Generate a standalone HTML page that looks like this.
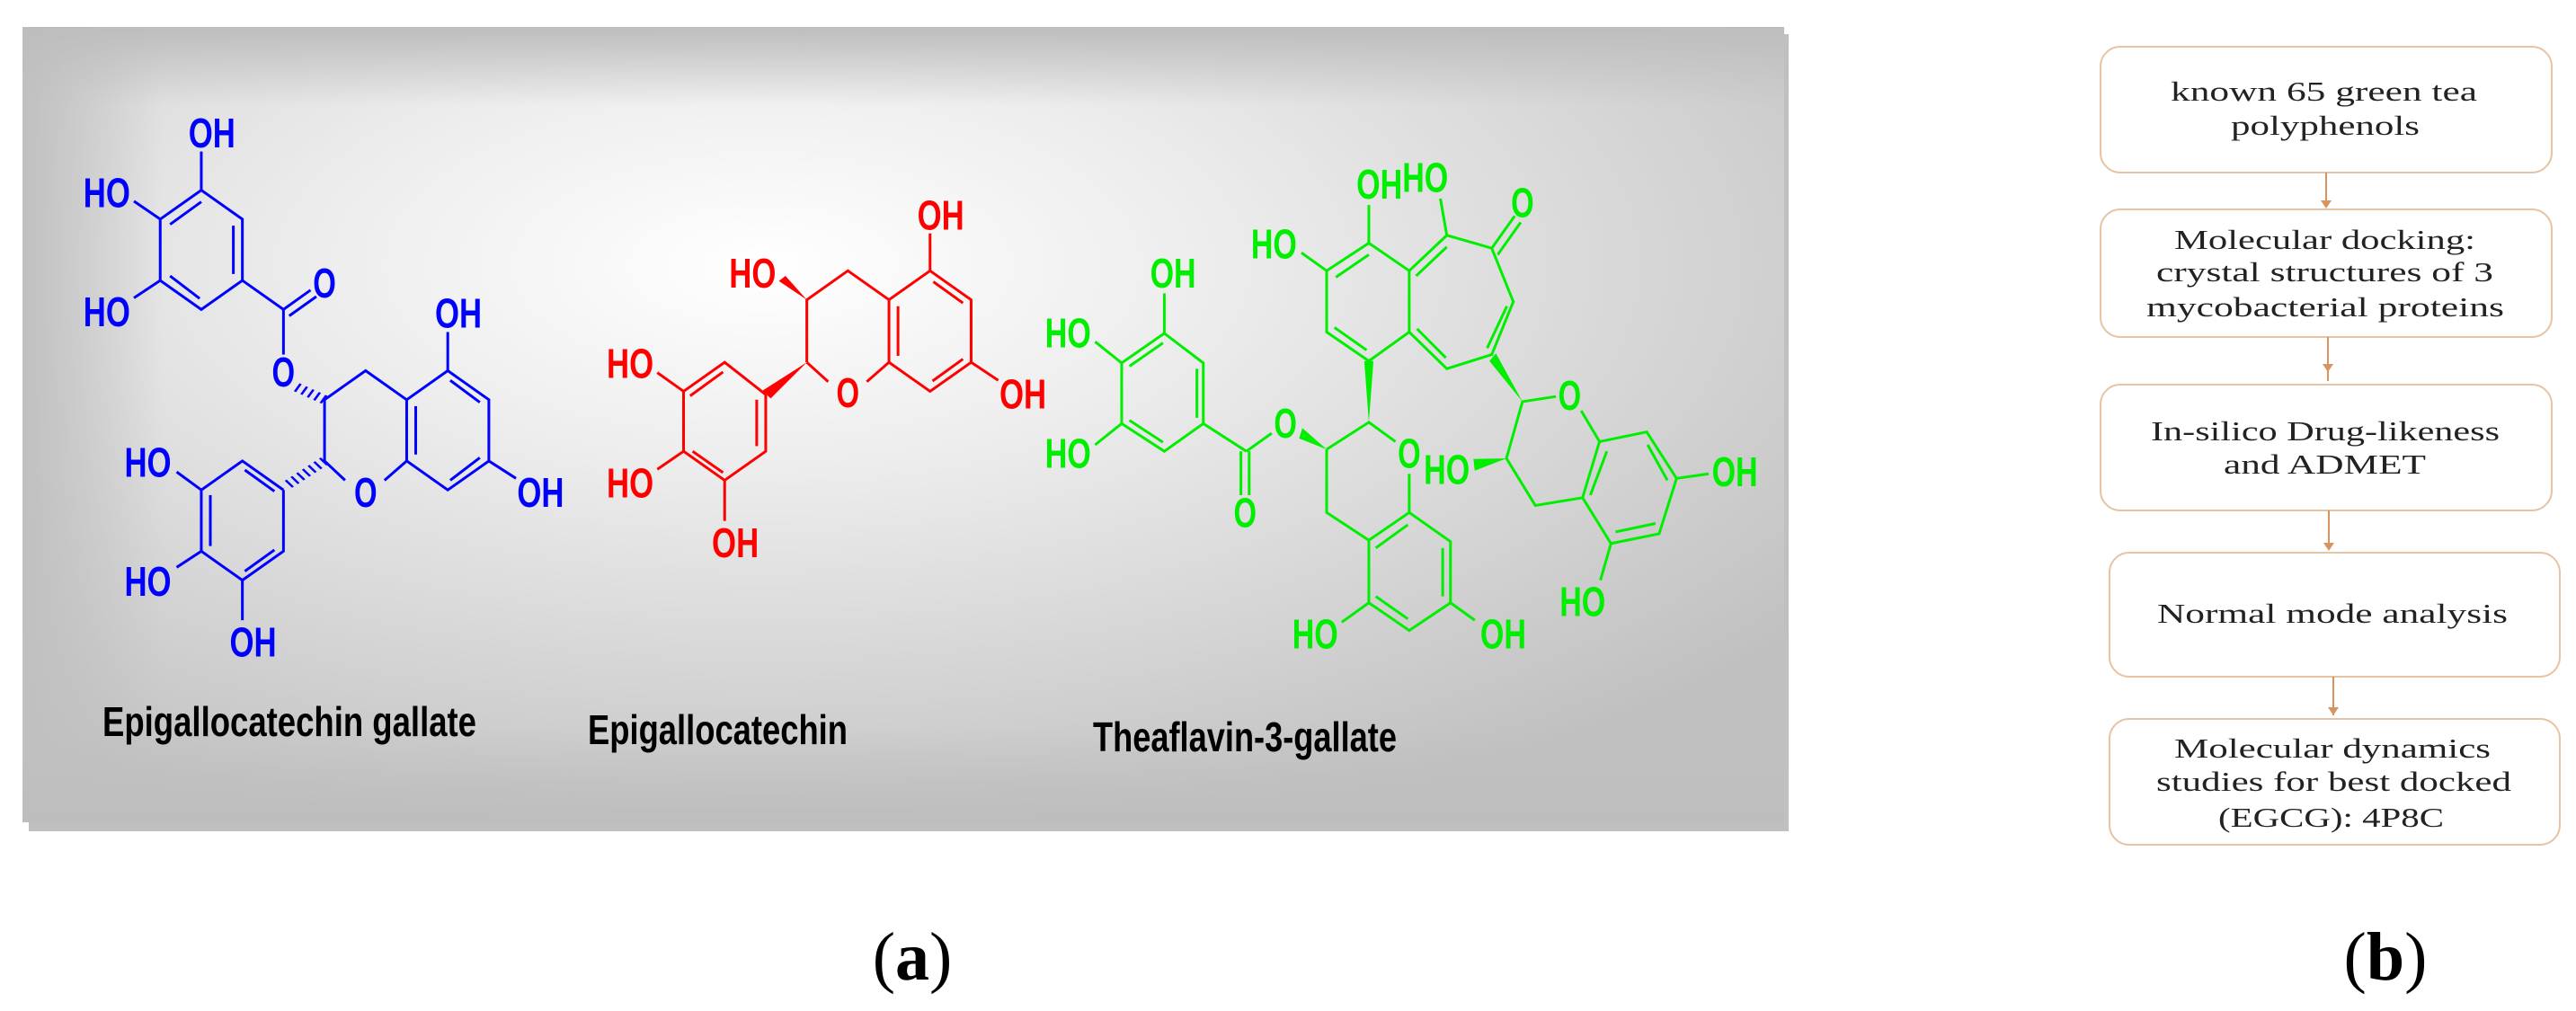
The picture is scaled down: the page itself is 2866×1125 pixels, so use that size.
<!DOCTYPE html>
<html><head><meta charset="utf-8"><style>
html,body{margin:0;padding:0;background:#fff;}
svg{display:block;}
.at{font-family:"Liberation Sans",Arial,sans-serif;font-weight:bold;font-size:64px;}
.lb{font-family:"Liberation Sans",Arial,sans-serif;font-weight:bold;font-size:46px;fill:#000;}
.fc{font-family:"Liberation Serif",serif;font-size:31px;fill:#222;}
</style></head><body>
<svg width="2866" height="1125" viewBox="0 0 2866 1125" xmlns="http://www.w3.org/2000/svg">
<defs>
<radialGradient id="bg" cx="0.42" cy="0.3" r="0.75">
<stop offset="0" stop-color="#ffffff"/>
<stop offset="0.35" stop-color="#ececec"/>
<stop offset="1" stop-color="#c0c0c0"/>
</radialGradient>
<linearGradient id="lg" x1="0" y1="0" x2="1" y2="0">
<stop offset="0" stop-color="#c0c0c0" stop-opacity="1"/>
<stop offset="0.08" stop-color="#c0c0c0" stop-opacity="0"/>
<stop offset="1" stop-color="#c0c0c0" stop-opacity="0"/>
</linearGradient>
<linearGradient id="tg" x1="0" y1="0" x2="0" y2="1">
<stop offset="0" stop-color="#bdbdbd" stop-opacity="1"/>
<stop offset="0.1" stop-color="#c0c0c0" stop-opacity="0"/>
<stop offset="0.88" stop-color="#c0c0c0" stop-opacity="0"/>
<stop offset="1" stop-color="#bdbdbd" stop-opacity="1"/>
</linearGradient>
</defs>
<rect x="32" y="38" width="1958" height="887" fill="#c0c0c0"/>
<rect x="25" y="30" width="1960" height="885" fill="url(#bg)"/>
<rect x="25" y="30" width="1960" height="885" fill="url(#lg)"/>
<rect x="25" y="30" width="1960" height="885" fill="url(#tg)"/>

<!-- BLUE EGCG -->
<g transform="scale(0.9141,0.7174)" fill="none" stroke="#0000ff" stroke-width="3">
<g>
<polyline vector-effect="non-scaling-stroke" points="245,295 295,340 295,435 245,480 195,435 195,340 245,295"/>
<line vector-effect="non-scaling-stroke" x1="207" y1="348" x2="245" y2="313"/>
<line vector-effect="non-scaling-stroke" x1="284" y1="350" x2="284" y2="425"/>
<line vector-effect="non-scaling-stroke" x1="207" y1="428" x2="243" y2="463"/>
<line vector-effect="non-scaling-stroke" x1="245" y1="295" x2="245" y2="235"/>
<line vector-effect="non-scaling-stroke" x1="195" y1="340" x2="163" y2="312"/>
<line vector-effect="non-scaling-stroke" x1="195" y1="435" x2="163" y2="462"/>
<line vector-effect="non-scaling-stroke" x1="295" y1="435" x2="345" y2="480"/>
<line vector-effect="non-scaling-stroke" x1="345" y1="480" x2="378" y2="450"/>
<line vector-effect="non-scaling-stroke" x1="352" y1="490" x2="385" y2="460"/>
<line vector-effect="non-scaling-stroke" x1="345" y1="480" x2="345" y2="550"/>
<polyline vector-effect="non-scaling-stroke" points="395,620 445,575 495,620 545,575 595,620 595,715 545,760 495,715 468,745"/>
<line vector-effect="non-scaling-stroke" x1="420" y1="745" x2="395" y2="715"/>
<line vector-effect="non-scaling-stroke" x1="395" y1="715" x2="395" y2="620"/>
<line vector-effect="non-scaling-stroke" x1="495" y1="620" x2="495" y2="715"/>
<line vector-effect="non-scaling-stroke" x1="506" y1="630" x2="506" y2="705"/>
<line vector-effect="non-scaling-stroke" x1="548" y1="590" x2="584" y2="624"/>
<line vector-effect="non-scaling-stroke" x1="584" y1="710" x2="548" y2="745"/>
<line vector-effect="non-scaling-stroke" x1="545" y1="575" x2="545" y2="515"/>
<line vector-effect="non-scaling-stroke" x1="595" y1="715" x2="628" y2="742"/>
<polyline vector-effect="non-scaling-stroke" points="345,760 295,715 245,760 245,855 295,900 345,855 345,760"/>
<line vector-effect="non-scaling-stroke" x1="298" y1="729" x2="334" y2="762"/>
<line vector-effect="non-scaling-stroke" x1="256" y1="768" x2="256" y2="847"/>
<line vector-effect="non-scaling-stroke" x1="298" y1="886" x2="334" y2="853"/>
<line vector-effect="non-scaling-stroke" x1="245" y1="760" x2="215" y2="732"/>
<line vector-effect="non-scaling-stroke" x1="245" y1="855" x2="215" y2="880"/>
<line vector-effect="non-scaling-stroke" x1="295" y1="900" x2="295" y2="962"/>
</g>
<line x1="395" y1="620" x2="360" y2="600" stroke-width="14" stroke-dasharray="3 6"/>
<line x1="395" y1="715" x2="350" y2="752" stroke-width="14" stroke-dasharray="3 6"/>
<g class="at" fill="#0000ff" stroke="none" text-anchor="middle" dominant-baseline="central">
<text x="258" y="207" textLength="57" lengthAdjust="spacingAndGlyphs">OH</text>
<text x="130" y="300" textLength="57" lengthAdjust="spacingAndGlyphs">HO</text>
<text x="130" y="485" textLength="57" lengthAdjust="spacingAndGlyphs">HO</text>
<text x="395" y="440" textLength="28" lengthAdjust="spacingAndGlyphs">O</text>
<text x="345" y="578" textLength="28" lengthAdjust="spacingAndGlyphs">O</text>
<text x="445" y="765" textLength="28" lengthAdjust="spacingAndGlyphs">O</text>
<text x="558" y="487" textLength="57" lengthAdjust="spacingAndGlyphs">OH</text>
<text x="658" y="765" textLength="57" lengthAdjust="spacingAndGlyphs">OH</text>
<text x="180" y="718" textLength="57" lengthAdjust="spacingAndGlyphs">HO</text>
<text x="180" y="903" textLength="57" lengthAdjust="spacingAndGlyphs">HO</text>
<text x="308" y="997" textLength="57" lengthAdjust="spacingAndGlyphs">OH</text>
</g>
</g>

<!-- RED EGC -->
<g transform="scale(0.9141,0.7174)" fill="none" stroke="#ff0000" stroke-width="3">
<g>
<polyline vector-effect="non-scaling-stroke" points="982,562 982,465 1032,420 1082,465 1132,420 1182,465 1182,562 1132,607 1082,562 1055,592"/>
<line vector-effect="non-scaling-stroke" x1="1008" y1="592" x2="982" y2="562"/>
<line vector-effect="non-scaling-stroke" x1="1082" y1="465" x2="1082" y2="562"/>
<line vector-effect="non-scaling-stroke" x1="1093" y1="475" x2="1093" y2="552"/>
<line vector-effect="non-scaling-stroke" x1="1136" y1="437" x2="1172" y2="470"/>
<line vector-effect="non-scaling-stroke" x1="1172" y1="557" x2="1135" y2="591"/>
<line vector-effect="non-scaling-stroke" x1="1132" y1="420" x2="1132" y2="362"/>
<line vector-effect="non-scaling-stroke" x1="1182" y1="562" x2="1215" y2="590"/>
<polyline vector-effect="non-scaling-stroke" points="932,612 882,562 832,607 832,700 882,745 932,700 932,612"/>
<line vector-effect="non-scaling-stroke" x1="840" y1="614" x2="880" y2="577"/>
<line vector-effect="non-scaling-stroke" x1="921" y1="620" x2="921" y2="692"/>
<line vector-effect="non-scaling-stroke" x1="843" y1="700" x2="880" y2="733"/>
<line vector-effect="non-scaling-stroke" x1="832" y1="607" x2="800" y2="578"/>
<line vector-effect="non-scaling-stroke" x1="832" y1="700" x2="800" y2="728"/>
<line vector-effect="non-scaling-stroke" x1="882" y1="745" x2="882" y2="808"/>
</g>
<polygon points="982,465 948,436 956,428" fill="#ff0000" stroke="none"/>
<polygon points="982,562 928,606 938,618" fill="#ff0000" stroke="none"/>
<g class="at" fill="#ff0000" stroke="none" text-anchor="middle" dominant-baseline="central">
<text x="1032" y="610" textLength="28" lengthAdjust="spacingAndGlyphs">O</text>
<text x="1145" y="335" textLength="57" lengthAdjust="spacingAndGlyphs">OH</text>
<text x="1245" y="612" textLength="57" lengthAdjust="spacingAndGlyphs">OH</text>
<text x="916" y="425" textLength="57" lengthAdjust="spacingAndGlyphs">HO</text>
<text x="767" y="565" textLength="57" lengthAdjust="spacingAndGlyphs">HO</text>
<text x="767" y="750" textLength="57" lengthAdjust="spacingAndGlyphs">HO</text>
<text x="895" y="843" textLength="57" lengthAdjust="spacingAndGlyphs">OH</text>
</g>
</g>

<!-- GREEN TF3G -->
<g transform="translate(1300,0) scale(0.5102,0.7174)" fill="none" stroke="#00ee00" stroke-width="3">
<g>
<polyline vector-effect="non-scaling-stroke" points="-9,517 76,563 76,657 -9,700 -102,657 -102,563 -9,517"/>
<line vector-effect="non-scaling-stroke" x1="62" y1="572" x2="62" y2="648"/>
<line vector-effect="non-scaling-stroke" x1="-85" y1="568" x2="-12" y2="532"/>
<line vector-effect="non-scaling-stroke" x1="-85" y1="652" x2="-12" y2="686"/>
<line vector-effect="non-scaling-stroke" x1="-9" y1="517" x2="-9" y2="455"/>
<line vector-effect="non-scaling-stroke" x1="-102" y1="563" x2="-160" y2="530"/>
<line vector-effect="non-scaling-stroke" x1="-102" y1="657" x2="-160" y2="690"/>
<line vector-effect="non-scaling-stroke" x1="76" y1="657" x2="170" y2="700"/>
<line vector-effect="non-scaling-stroke" x1="158" y1="700" x2="158" y2="768"/>
<line vector-effect="non-scaling-stroke" x1="176" y1="700" x2="176" y2="768"/>
<line vector-effect="non-scaling-stroke" x1="170" y1="700" x2="225" y2="672"/>
<polyline vector-effect="non-scaling-stroke" points="345,697 437,655 495,685"/>
<polyline vector-effect="non-scaling-stroke" points="525,735 525,795 437,838 345,795 345,697"/>
<polyline vector-effect="non-scaling-stroke" points="525,795 615,840 615,935 525,978 437,935 437,838"/>
<line vector-effect="non-scaling-stroke" x1="452" y1="850" x2="522" y2="814"/>
<line vector-effect="non-scaling-stroke" x1="598" y1="850" x2="598" y2="925"/>
<line vector-effect="non-scaling-stroke" x1="522" y1="960" x2="452" y2="925"/>
<line vector-effect="non-scaling-stroke" x1="615" y1="935" x2="668" y2="962"/>
<line vector-effect="non-scaling-stroke" x1="437" y1="935" x2="378" y2="965"/>
<polyline vector-effect="non-scaling-stroke" points="437,560 345,515 345,420 437,377 525,420 525,515 437,560"/>
<line vector-effect="non-scaling-stroke" x1="362" y1="508" x2="432" y2="543"/>
<line vector-effect="non-scaling-stroke" x1="365" y1="430" x2="437" y2="395"/>
<line vector-effect="non-scaling-stroke" x1="437" y1="377" x2="437" y2="318"/>
<line vector-effect="non-scaling-stroke" x1="345" y1="420" x2="290" y2="392"/>
<polyline vector-effect="non-scaling-stroke" points="525,420 607,365 705,385 752,468 705,550 607,572 525,515"/>
<line vector-effect="non-scaling-stroke" x1="540" y1="428" x2="607" y2="383"/>
<line vector-effect="non-scaling-stroke" x1="738" y1="475" x2="695" y2="540"/>
<line vector-effect="non-scaling-stroke" x1="605" y1="555" x2="542" y2="510"/>
<line vector-effect="non-scaling-stroke" x1="705" y1="385" x2="755" y2="335"/>
<line vector-effect="non-scaling-stroke" x1="718" y1="395" x2="768" y2="345"/>
<line vector-effect="non-scaling-stroke" x1="607" y1="365" x2="593" y2="308"/>
<polyline vector-effect="non-scaling-stroke" points="845,615 772,623 737,711 800,784 903,772 940,685 900,637"/>
<polyline vector-effect="non-scaling-stroke" points="940,685 1043,670 1108,742 1070,828 965,843 903,772"/>
<line vector-effect="non-scaling-stroke" x1="956" y1="700" x2="920" y2="768"/>
<line vector-effect="non-scaling-stroke" x1="1045" y1="690" x2="1088" y2="745"/>
<line vector-effect="non-scaling-stroke" x1="1062" y1="812" x2="975" y2="825"/>
<line vector-effect="non-scaling-stroke" x1="1108" y1="742" x2="1178" y2="735"/>
<line vector-effect="non-scaling-stroke" x1="965" y1="843" x2="942" y2="900"/>
</g>
<polygon points="345,697 285,680 292,664" fill="#00ee00" stroke="none"/>
<polygon points="437,655 427,560 447,560" fill="#00ee00" stroke="none"/>
<polygon points="772,623 700,560 714,548" fill="#00ee00" stroke="none"/>
<polygon points="737,711 665,712 668,730" fill="#00ee00" stroke="none"/>
<g class="at" fill="#00ee00" stroke="none" text-anchor="middle" dominant-baseline="central">
<text x="10" y="425" textLength="100" lengthAdjust="spacingAndGlyphs">OH</text>
<text x="-219" y="518" textLength="100" lengthAdjust="spacingAndGlyphs">HO</text>
<text x="-219" y="705" textLength="100" lengthAdjust="spacingAndGlyphs">HO</text>
<text x="167" y="797" textLength="50" lengthAdjust="spacingAndGlyphs">O</text>
<text x="255" y="658" textLength="50" lengthAdjust="spacingAndGlyphs">O</text>
<text x="525" y="705" textLength="50" lengthAdjust="spacingAndGlyphs">O</text>
<text x="730" y="985" textLength="100" lengthAdjust="spacingAndGlyphs">OH</text>
<text x="320" y="985" textLength="100" lengthAdjust="spacingAndGlyphs">HO</text>
<text x="460" y="287" textLength="100" lengthAdjust="spacingAndGlyphs">OH</text>
<text x="230" y="380" textLength="100" lengthAdjust="spacingAndGlyphs">HO</text>
<text x="560" y="277" textLength="100" lengthAdjust="spacingAndGlyphs">HO</text>
<text x="772" y="316" textLength="50" lengthAdjust="spacingAndGlyphs">O</text>
<text x="875" y="615" textLength="50" lengthAdjust="spacingAndGlyphs">O</text>
<text x="607" y="730" textLength="100" lengthAdjust="spacingAndGlyphs">HO</text>
<text x="1235" y="733" textLength="100" lengthAdjust="spacingAndGlyphs">OH</text>
<text x="903" y="935" textLength="100" lengthAdjust="spacingAndGlyphs">HO</text>
</g>
</g>

<text class="lb" x="114" y="819" textLength="416" lengthAdjust="spacingAndGlyphs">Epigallocatechin gallate</text>
<text class="lb" x="654" y="828" textLength="289" lengthAdjust="spacingAndGlyphs">Epigallocatechin</text>
<text class="lb" x="1216" y="836" textLength="338" lengthAdjust="spacingAndGlyphs">Theaflavin-3-gallate</text>

<g fill="#fff" stroke="#e6c4a4" stroke-width="2">
<rect x="2337" y="52" width="502" height="140" rx="22"/>
<rect x="2337" y="233" width="502" height="142" rx="22"/>
<rect x="2337" y="428" width="502" height="140" rx="22"/>
<rect x="2347" y="615" width="501" height="138" rx="22"/>
<rect x="2347" y="800" width="501" height="140" rx="22"/>
</g>
<g stroke="#d9935f" stroke-width="2">
<line x1="2588" y1="192" x2="2588" y2="229"/>
<line x1="2590" y1="375" x2="2590" y2="424"/>
<line x1="2591" y1="568" x2="2591" y2="611"/>
<line x1="2596" y1="753" x2="2596" y2="796"/>
</g>
<g fill="#d9935f">
<polygon points="2582,223 2594,223 2588,232"/>
<polygon points="2584,405 2596,405 2590,414"/>
<polygon points="2585,604 2597,604 2591,613"/>
<polygon points="2590,787 2602,787 2596,796"/>
</g>
<g class="fc">
<text x="2415" y="112" textLength="341" lengthAdjust="spacingAndGlyphs">known 65 green tea</text>
<text x="2482" y="150" textLength="210" lengthAdjust="spacingAndGlyphs">polyphenols</text>
<text x="2419" y="277" textLength="335" lengthAdjust="spacingAndGlyphs">Molecular docking:</text>
<text x="2399" y="313" textLength="375" lengthAdjust="spacingAndGlyphs">crystal structures of 3</text>
<text x="2388" y="352" textLength="398" lengthAdjust="spacingAndGlyphs">mycobacterial proteins</text>
<text x="2393" y="490" textLength="388" lengthAdjust="spacingAndGlyphs">In-silico Drug-likeness</text>
<text x="2474" y="527" textLength="225" lengthAdjust="spacingAndGlyphs">and ADMET</text>
<text x="2400" y="693" textLength="390" lengthAdjust="spacingAndGlyphs">Normal mode analysis</text>
<text x="2419" y="843" textLength="352" lengthAdjust="spacingAndGlyphs">Molecular dynamics</text>
<text x="2399" y="880" textLength="395" lengthAdjust="spacingAndGlyphs">studies for best docked</text>
<text x="2468" y="920" textLength="251" lengthAdjust="spacingAndGlyphs">(EGCG): 4P8C</text>
</g>

<text x="1015" y="1090" text-anchor="middle" font-family="Liberation Serif,serif" font-size="76" fill="#000">(<tspan font-weight="bold">a</tspan>)</text>
<text x="2654" y="1090" text-anchor="middle" font-family="Liberation Serif,serif" font-size="76" fill="#000">(<tspan font-weight="bold">b</tspan>)</text>
</svg>
</body></html>
